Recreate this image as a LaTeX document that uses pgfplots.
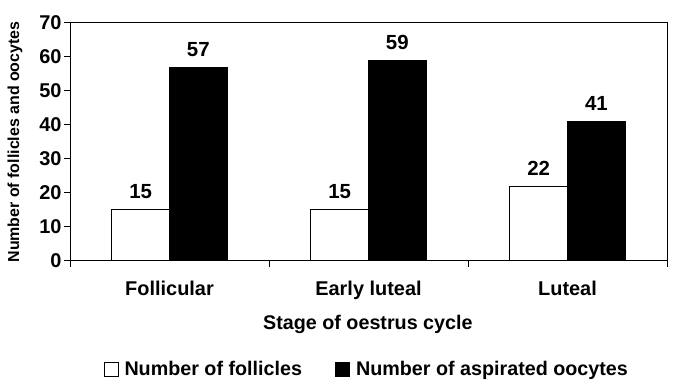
\documentclass[border=0pt]{standalone}
\usepackage{fontspec}
\setmainfont{Liberation Sans}
\usepackage{pgfplots}
\pgfplotsset{compat=1.18}
\usetikzlibrary{calc}
\begin{document}
\begin{tikzpicture}
\begin{axis}[
 name=ax, at={(0,0)}, anchor=south west,
 scale only axis, width=597bp, height=238bp,
 xmin=-0.5, xmax=2.5, ymin=0, ymax=70,
 ybar=0pt, bar width=0.29,
 xtick={0,1,2}, xticklabels={Follicular, Early luteal, Luteal},
 minor xtick={-0.5,0.5,1.5,2.5},
 major x tick style={draw=none},
 ytick={0,10,...,70},
 tick align=outside, tick pos=left,
 major tick length=6bp, minor tick length=6bp,
 axis line style={line width=1bp},
 tick style={black, line width=1bp},
 /pgf/number format/assume math mode=true,
 ticklabel style={font=\bfseries\fontsize{20}{22}\selectfont},
 yticklabel style={xshift=1bp},
 xticklabel style={yshift=-11bp},
 ylabel={Number of follicles and oocytes},
 ylabel style={font=\bfseries\fontsize{16}{18}\selectfont, at={(axis description cs:-0.092,0.5)}, anchor=center},
 xlabel={Stage of oestrus cycle},
 xlabel style={font=\bfseries\fontsize{19.8}{22}\selectfont, at={(axis description cs:0.499,-0.265)}, anchor=center},
 nodes near coords,
 nodes near coords style={font=\bfseries\fontsize{20.5}{22}\selectfont, text=black, yshift=7bp},
 legend style={draw=none, at={(0.497,-0.454)}, anchor=center, legend columns=2,
   font=\bfseries\fontsize{19.8}{22}\selectfont,
   /tikz/every even column/.append style={column sep=31bp}},
 legend image code/.code={\draw[#1, line width=1bp] (0bp,-7bp) rectangle (14bp,7bp); \path (18bp,0bp);},
]
\addplot[fill=white, draw=black, line width=1bp] coordinates {(0,15) (1,15) (2,22)};
\addplot[fill=black, draw=black, line width=1bp] coordinates {(0,57) (1,59) (2,41)};
\legend{Number of follicles, Number of aspirated oocytes}
\end{axis}
\pgfresetboundingbox
\path[use as bounding box] ($(ax.south west)+(-70bp,-130bp)$) rectangle ($(ax.north east)+(12bp,23bp)$);
\end{tikzpicture}
\end{document}
